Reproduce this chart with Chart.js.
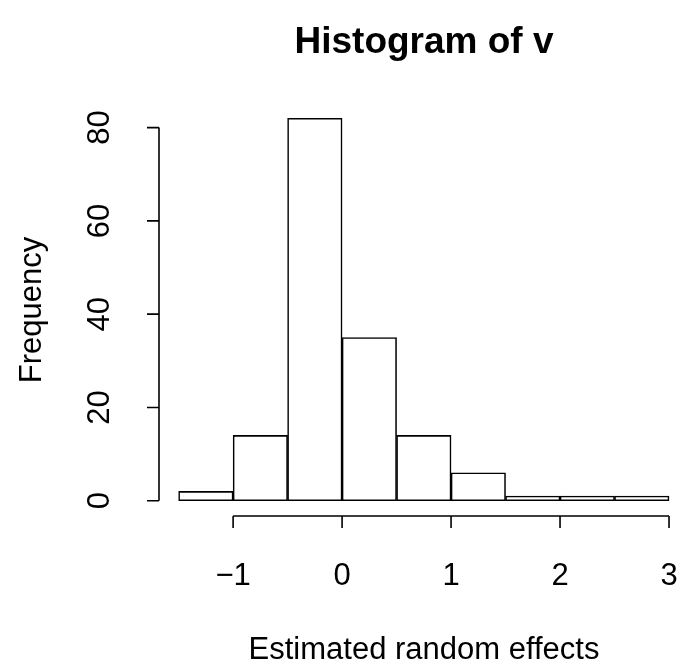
<!DOCTYPE html>
<html>
<head>
<meta charset="utf-8">
<title>Histogram of v</title>
<script src="https://cdn.jsdelivr.net/npm/chart.js@4/dist/chart.umd.min.js"></script>
<style>
    html, body { margin: 0; padding: 0; background: #fff; overflow: hidden; }
    #wrap { width: 681px; height: 671px; }
</style>
</head>
<body>
<div id="wrap"><canvas id="hist" width="681" height="671"></canvas></div>
<script>
// histogram bins (breaks) and counts
const breaks = [-1.5, -1, -0.5, 0, 0.5, 1, 1.5, 2, 2.5, 3];
const counts = [2, 14, 82, 35, 14, 6, 1, 1, 1];
const xTicks = [-1, 0, 1, 2, 3];
const yTicks = [0, 20, 40, 60, 80];

const mainTitle = 'Histogram of v';
const xTitle = 'Estimated random effects';
const yTitle = 'Frequency';

const FONT = '"Liberation Sans", Arial, Helvetica, sans-serif';

// midpoints of each bin -> bar centres on a linear x scale
const points = counts.map((c, i) => ({ x: (breaks[i] + breaks[i + 1]) / 2, y: c }));

// format like R (minus sign instead of hyphen)
function fmt(v) {
    return v < 0 ? '\u2212' + Math.abs(v) : String(v);
}

// R-style detached axes and titles
const baseGraphics = {
    id: 'baseGraphics',
    afterDraw(chart) {
        const ctx = chart.ctx;
        const xs = chart.scales.x;
        const ys = chart.scales.y;
        const area = chart.chartArea;
        ctx.save();
        ctx.strokeStyle = '#000';
        ctx.fillStyle = '#000';
        ctx.lineWidth = 1.6;

        // x axis
        const ax = area.bottom;
        ctx.beginPath();
        ctx.moveTo(xs.getPixelForValue(xTicks[0]), ax);
        ctx.lineTo(xs.getPixelForValue(xTicks[xTicks.length - 1]), ax);
        xTicks.forEach(t => {
            const px = xs.getPixelForValue(t);
            ctx.moveTo(px, ax);
            ctx.lineTo(px, ax + 12);
        });
        ctx.stroke();
        ctx.font = '31px ' + FONT;
        ctx.textAlign = 'center';
        ctx.textBaseline = 'middle';
        xTicks.forEach(t => ctx.fillText(fmt(t), xs.getPixelForValue(t), 576));

        // y axis
        const ay = area.left;
        ctx.beginPath();
        ctx.moveTo(ay, ys.getPixelForValue(yTicks[0]));
        ctx.lineTo(ay, ys.getPixelForValue(yTicks[yTicks.length - 1]));
        yTicks.forEach(t => {
            const py = ys.getPixelForValue(t);
            ctx.moveTo(ay, py);
            ctx.lineTo(ay - 12, py);
        });
        ctx.stroke();
        yTicks.forEach(t => {
            ctx.save();
            ctx.translate(100, ys.getPixelForValue(t));
            ctx.rotate(-Math.PI / 2);
            ctx.fillText(fmt(t), 0, 0);
            ctx.restore();
        });

        // axis titles
        ctx.fillText(xTitle, 424, 650);
        ctx.save();
        ctx.translate(32, 310);
        ctx.rotate(-Math.PI / 2);
        ctx.fillText(yTitle, 0, 0);
        ctx.restore();

        // main title
        ctx.font = 'bold 37px ' + FONT;
        ctx.fillText(mainTitle, 424, 43);
        ctx.restore();
    }
};

const ctx = document.getElementById('hist').getContext('2d');
new Chart(ctx, {
    type: 'bar',
    data: {
        datasets: [{
            label: 'Frequency',
            data: points,
            backgroundColor: '#ffffff',
            borderColor: '#000000',
            borderWidth: 1.6,
            borderSkipped: false,
            barPercentage: 1,
            categoryPercentage: 1
        }]
    },
    options: {
        responsive: false,
        animation: false,
        devicePixelRatio: 1,
        layout: { padding: { left: 159, right: 0, top: 103, bottom: 155 } },
        plugins: {
            legend: { display: false },
            title: { display: false },
            tooltip: { enabled: false }
        },
        scales: {
            x: { type: 'linear', min: -1.68, max: 3.11, offset: false, display: false },
            y: { type: 'linear', min: -3.28, max: 85.28, display: false }
        }
    },
    plugins: [baseGraphics]
});
</script>
</body>
</html>
